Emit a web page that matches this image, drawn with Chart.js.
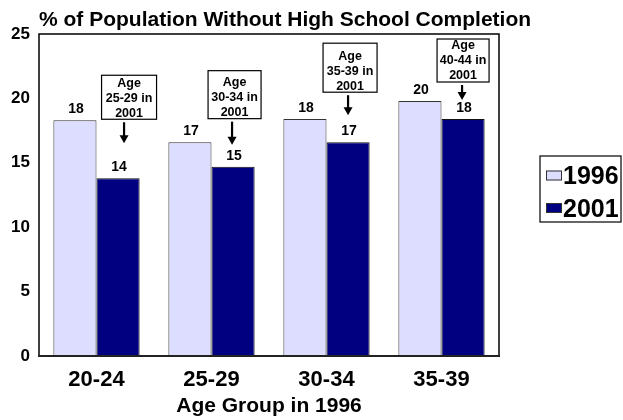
<!DOCTYPE html>
<html>
<head>
<meta charset="utf-8">
<script src="https://cdn.jsdelivr.net/npm/chart.js@4.4.1/dist/chart.umd.min.js"></script>
<style>
html,body{margin:0;padding:0;background:#fff;}
#wrap{width:623px;height:420px;position:relative;}
</style>
</head>
<body>
<div id="wrap"><canvas id="c" width="623" height="420"></canvas></div>
<script>
// Share of each age group without a high-school diploma, 1996 vs 2001
const ageGroups = ['20-24', '25-29', '30-34', '35-39'];
const pct1996 = [18.3, 16.6, 18.4, 19.8];
const pct2001 = [13.8, 14.7, 16.6, 18.4];
const ageIn2001 = ['25-29', '30-34', '35-39', '40-44'];
const yTicks = [0, 5, 10, 15, 20, 25];
const seriesNames = ['1996', '2001'];

const FONT = "'Liberation Sans', Arial, Helvetica, sans-serif";
const colors = { y1996: '#DDDDFF', y2001: '#000080' };

// Placement of the "Age .. in 2001" callouts, in pixels relative to each 2001 bar
const calloutLayout = [
  { dx: 11, w: 55, h: 44, lift: 59, arrowDx: 6, arrowGap: 35 },
  { dx: 1.5, w: 53, h: 48, lift: 48, arrowDx: -1, arrowGap: 22 },
  { dx: 2, w: 54, h: 49, lift: 50, arrowDx: 0, arrowGap: 27 },
  { dx: 0, w: 52, h: 43, lift: 37, arrowDx: -1, arrowGap: 19 }
];

// Start the title flush with the plot's left edge, with room to run past the plot
const titleShiftPlugin = {
  id: 'titleShift',
  afterLayout(chart) {
    const t = chart.titleBlock;
    if (t) { t.left = chart.chartArea.left; t.right = chart.width; }
  }
};

const framePlugin = {
  id: 'frame',
  afterDatasetsDraw(chart) {
    const { ctx, chartArea: a } = chart;
    ctx.save();
    ctx.strokeStyle = '#000';
    ctx.lineWidth = 1.5;
    ctx.beginPath();
    ctx.moveTo(a.left, a.bottom);
    ctx.lineTo(a.left, a.top);
    ctx.lineTo(a.right, a.top);
    ctx.lineTo(a.right, a.bottom);
    ctx.stroke();
    ctx.lineWidth = 2;
    ctx.strokeStyle = '#222';
    ctx.beginPath();
    ctx.moveTo(a.left - 1, a.bottom);
    ctx.lineTo(a.right + 1, a.bottom);
    ctx.stroke();
    ctx.restore();
  }
};

const valueLabelPlugin = {
  id: 'valueLabels',
  afterDatasetsDraw(chart) {
    const { ctx } = chart;
    ctx.save();
    ctx.fillStyle = '#000';
    ctx.font = 'bold 14px ' + FONT;
    ctx.textAlign = 'center';
    ctx.textBaseline = 'alphabetic';
    chart.data.datasets.forEach((ds, di) => {
      const meta = chart.getDatasetMeta(di);
      meta.data.forEach((el, i) => {
        ctx.fillText(String(Math.round(ds.data[i])), el.x + 1, el.y - 7);
      });
    });
    ctx.restore();
  }
};

const calloutPlugin = {
  id: 'callouts',
  afterDatasetsDraw(chart) {
    const { ctx } = chart;
    const meta = chart.getDatasetMeta(1);
    ctx.save();
    meta.data.forEach((el, i) => {
      const L = calloutLayout[i];
      const cx = el.x + L.dx;
      const bottom = el.y - L.lift;
      const top = bottom - L.h;
      ctx.fillStyle = '#fff';
      ctx.fillRect(cx - L.w / 2, top, L.w, L.h);
      ctx.font = 'bold 12.5px ' + FONT;
      ctx.fillStyle = '#000';
      ctx.textAlign = 'center';
      ctx.textBaseline = 'middle';
      ctx.fillText('Age', cx, bottom - 36);
      ctx.fillText(ageIn2001[i] + ' in', cx, bottom - 21);
      ctx.fillText('2001', cx, bottom - 6);
      ctx.strokeStyle = '#000';
      ctx.lineWidth = 1.2;
      ctx.strokeRect(cx - L.w / 2, top, L.w, L.h);
      // arrow pointing down at the 2001 bar
      const ax = el.x + L.arrowDx;
      const y1 = bottom + 3;
      const y2 = el.y - L.arrowGap;
      ctx.lineWidth = 2.2;
      ctx.beginPath();
      ctx.moveTo(ax, y1);
      ctx.lineTo(ax, y2 - 6);
      ctx.stroke();
      ctx.beginPath();
      ctx.moveTo(ax - 4.5, y2 - 8);
      ctx.lineTo(ax + 4.5, y2 - 8);
      ctx.lineTo(ax, y2);
      ctx.closePath();
      ctx.fill();
    });
    ctx.restore();
  }
};

const legendPlugin = {
  id: 'boxLegend',
  afterDraw(chart) {
    const { ctx } = chart;
    const box = { x: 540, y: 156, w: 81, h: 66 };
    ctx.save();
    ctx.strokeStyle = '#000';
    ctx.lineWidth = 1.2;
    ctx.strokeRect(box.x, box.y, box.w, box.h);
    ctx.font = 'bold 25px ' + FONT;
    ctx.textBaseline = 'middle';
    ctx.textAlign = 'left';
    chart.data.datasets.forEach((ds, i) => {
      const cy = box.y + 20.5 + i * 32.5;
      ctx.fillStyle = ds.backgroundColor;
      ctx.fillRect(box.x + 6, cy - 6, 16, 10);
      ctx.strokeStyle = '#333';
      ctx.lineWidth = 1;
      ctx.strokeRect(box.x + 6.5, cy - 5.5, 15, 9);
      ctx.fillStyle = '#000';
      ctx.fillText(ds.label, box.x + 23, cy + 1);
    });
    ctx.restore();
  }
};

new Chart(document.getElementById('c'), {
  type: 'bar',
  data: {
    labels: ageGroups,
    datasets: [
      { label: seriesNames[0], data: pct1996, backgroundColor: colors.y1996, borderColor: '#333', borderWidth: 1 },
      { label: seriesNames[1], data: pct2001, backgroundColor: colors.y2001, borderColor: '#111', borderWidth: 1 }
    ]
  },
  options: {
    responsive: false,
    animation: false,
    devicePixelRatio: 1,
    layout: { padding: { top: 8, right: 0, bottom: 0, left: 0 } },
    datasets: { bar: { categoryPercentage: 0.75, barPercentage: 1.0 } },
    plugins: {
      legend: { display: false },
      tooltip: { enabled: false },
      title: {
        display: true,
        text: '% of Population Without High School Completion',
        align: 'start',
        color: '#000',
        font: { family: FONT, size: 21, weight: 'bold' },
        padding: { top: 0, bottom: 0.8 }
      }
    },
    scales: {
      x: {
        grid: { display: false, drawTicks: false },
        border: { display: false },
        ticks: { color: '#000', font: { family: FONT, size: 22, weight: 'bold' }, padding: 11, maxRotation: 0 },
        title: {
          display: true,
          text: 'Age Group in 1996',
          color: '#000',
          font: { family: FONT, size: 21, weight: 'bold' },
          padding: { top: 0, bottom: 1 }
        },
        afterFit(s) { s.height = 64; }
      },
      y: {
        min: 0,
        max: 25,
        grid: { display: false, drawTicks: false },
        border: { display: false },
        ticks: { color: '#000', font: { family: FONT, size: 17, weight: 'bold' }, padding: 9 },
        afterBuildTicks(s) { s.ticks = yTicks.map(v => ({ value: v })); },
        afterFit(s) { s.width = 39; }
      },
      // empty right-hand strip that holds the legend
      side: {
        position: 'right',
        display: true,
        grid: { display: false, drawTicks: false },
        border: { display: false },
        ticks: { display: false },
        afterFit(s) { s.width = 124; }
      }
    }
  },
  plugins: [titleShiftPlugin, framePlugin, valueLabelPlugin, calloutPlugin, legendPlugin]
});
</script>
</body>
</html>
